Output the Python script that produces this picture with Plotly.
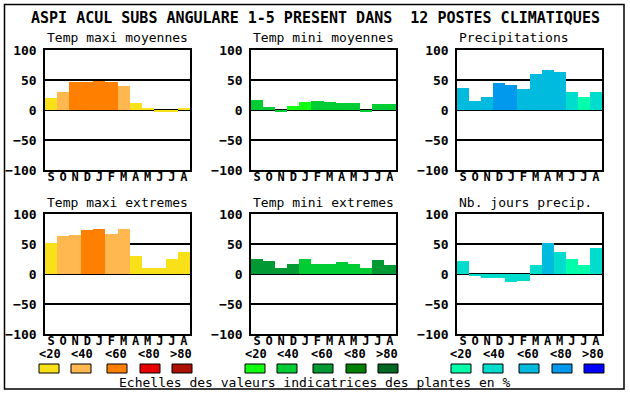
import plotly.graph_objects as go

months = ["S", "O", "N", "D", "J", "F", "M", "A", "M", "J", "J", "A"]
titles = ["Temp maxi moyennes", "Temp mini moyennes", "Precipitations",
          "Temp maxi extremes", "Temp mini extremes", "Nb. jours precip."]

tmax_moy = [20, 30, 47, 47, 49, 47, 40, 12, 2, -4, -4, 4]
tmax_moy_lvl = [0, 1, 2, 2, 2, 2, 1, 0, 0, 0, 0, 0]
tmin_moy = [17, 5, -2, 7, 14, 15, 14, 12, 12, -4, 10, 10]
tmin_moy_lvl = [1, 1, 1, 0, 0, 1, 1, 1, 1, 1, 1, 1]
precip = [37, 15, 22, 45, 42, 35, 60, 67, 63, 30, 22, 30]
precip_lvl = [2, 2, 2, 3, 3, 2, 2, 2, 2, 1, 0, 1]
tmax_ext = [52, 64, 65, 74, 75, 67, 75, 30, 10, 10, 25, 37]
tmax_ext_lvl = [0, 1, 1, 2, 2, 1, 1, 0, 0, 0, 0, 0]
tmin_ext = [25, 22, 10, 17, 25, 17, 17, 20, 17, 10, 24, 15]
tmin_ext_lvl = [2, 2, 2, 2, 1, 1, 1, 1, 1, 1, 2, 2]
jours = [22, -4, -6, -6, -14, -11, 15, 52, 37, 25, 15, 44]
jours_lvl = [1, 1, 1, 1, 1, 1, 1, 2, 1, 0, 0, 1]

scale_labels = ["<20", "<40", "<60", "<80", ">80"]
yticks = [-100, -50, 0, 50, 100]

pal_temp = ["#F9E11A", "#FFB84F", "#FF8000", "#E80000", "#AA1100"]
pal_green = ["#11FF11", "#00CC33", "#009933", "#008000", "#006622"]
pal_blue = ["#00FFAA", "#00DDCC", "#00BBDD", "#0099EE", "#0000FF"]

series = [(tmax_moy, tmax_moy_lvl, pal_temp), (tmin_moy, tmin_moy_lvl, pal_green),
          (precip, precip_lvl, pal_blue), (tmax_ext, tmax_ext_lvl, pal_temp),
          (tmin_ext, tmin_ext_lvl, pal_green), (jours, jours_lvl, pal_blue)]

W, H = 630, 394
FONT = "DejaVu Sans Mono"
px_x = [(45, 190), (251, 396), (457, 602)]
px_y = [(50, 170), (214, 334)]

fig = go.Figure()
layout = dict(width=W, height=H, margin=dict(l=0, r=0, t=0, b=0, pad=0),
              paper_bgcolor="white", plot_bgcolor="white", showlegend=False,
              bargap=0, shapes=[], annotations=[])

for i, (vals, lvls, pal) in enumerate(series):
    r, c = divmod(i, 3)
    n = i + 1
    xa = "x" if n == 1 else f"x{n}"
    ya = "y" if n == 1 else f"y{n}"
    fig.add_trace(go.Bar(x=list(range(12)), y=vals, marker=dict(color=[pal[l] for l in lvls], line=dict(width=0)),
                         xaxis=xa, yaxis=ya, width=1.0, hoverinfo="skip"))
    x0, x1 = px_x[c]
    y0, y1 = px_y[r]
    layout["xaxis" if n == 1 else f"xaxis{n}"] = dict(
        domain=[x0 / W, x1 / W], range=[-0.5, 11.5], anchor=ya, automargin=False,
        tickvals=list(range(12)), ticktext=months, showgrid=False, zeroline=False,
        showline=True, mirror=True, linecolor="black", linewidth=1.5, ticks="",
        ticklabelstandoff=-5, tickfont=dict(family=FONT, size=12, color="black", weight="bold"))
    layout["yaxis" if n == 1 else f"yaxis{n}"] = dict(
        domain=[1 - y1 / H, 1 - y0 / H], range=[-100, 100], anchor=xa, automargin=False,
        tickvals=yticks, showgrid=True, gridcolor="black", gridwidth=1.5,
        zeroline=True, zerolinecolor="black", zerolinewidth=1.5,
        showline=True, mirror=True, linecolor="black", linewidth=1.5, ticks="",
        ticklabelstandoff=4, tickfont=dict(family=FONT, size=13, color="black", weight="bold"))
    layout["annotations"].append(dict(
        text=titles[i], x=x0 / W, y=1 - (y0 - 12) / H, xref="paper", yref="paper",
        xanchor="left", yanchor="middle", showarrow=False,
        font=dict(family=FONT, size=13, color="black")))

# overall title
layout["annotations"].append(dict(
    text="ASPI ACUL SUBS ANGULARE 1-5 PRESENT DANS  12 POSTES CLIMATIQUES",
    x=315 / W, y=1 - 18 / H, xref="paper", yref="paper", xanchor="center", yanchor="middle",
    showarrow=False, font=dict(family=FONT, size=15, color="black", weight="bold")))

# outer frame
layout["shapes"].append(dict(type="rect", xref="paper", yref="paper",
                             x0=4.5 / W, x1=624 / W, y0=1 - 389 / H, y1=1 - 4.5 / H,
                             line=dict(color="black", width=1.5)))

# legend scales
box_off = [39, 71, 107, 140, 172]
lab_ctr = [49.5, 82, 116, 149, 181]
pals = [pal_temp, pal_green, pal_blue]
for g in range(3):
    dx = 206 * g
    for k in range(5):
        bx = box_off[k] + dx
        layout["shapes"].append(dict(type="rect", xref="paper", yref="paper",
                                     x0=bx / W, x1=(bx + 20) / W, y0=1 - 373 / H, y1=1 - 364 / H,
                                     fillcolor=pals[g][k], line=dict(color="black", width=1)))
        layout["annotations"].append(dict(
            text=scale_labels[k], x=(lab_ctr[k] + dx) / W, y=1 - 354 / H, xref="paper", yref="paper",
            xanchor="center", yanchor="middle", showarrow=False,
            font=dict(family=FONT, size=12, color="black", weight="bold")))

layout["annotations"].append(dict(
    text="Echelles des valeurs indicatrices des plantes en %",
    x=315 / W, y=1 - 382 / H, xref="paper", yref="paper", xanchor="center", yanchor="middle",
    showarrow=False, font=dict(family=FONT, size=13, color="black")))

fig.update_layout(**layout)
fig.write_html("out.html", config={"displayModeBar": False},
               post_script="document.body.style.margin='0';document.body.style.overflow='hidden';")
